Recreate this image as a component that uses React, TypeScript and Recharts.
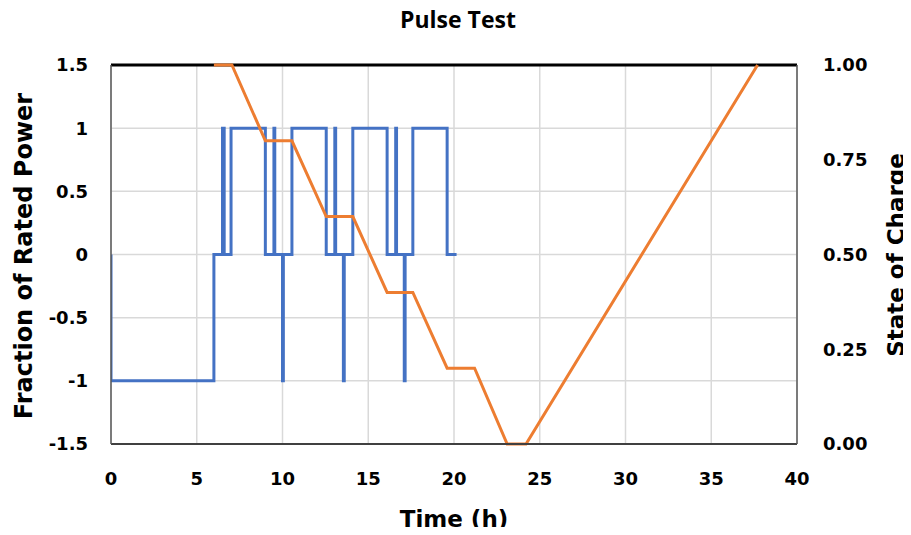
import React from 'react';
import { ComposedChart, Line, XAxis, YAxis, CartesianGrid, ReferenceLine } from 'recharts';

const powerTime = [0, 0, 6, 6, 6.5, 6.5, 6.6, 6.6, 7, 7, 9, 9, 9.5, 9.5, 9.55, 9.55, 10, 10, 10.05, 10.05, 10.55, 10.55, 12.55, 12.55, 13.05, 13.05, 13.1, 13.1, 13.55, 13.55, 13.6, 13.6, 14.1, 14.1, 16.1, 16.1, 16.6, 16.6, 16.65, 16.65, 17.1, 17.1, 17.15, 17.15, 17.6, 17.6, 19.6, 19.6, 20.15];
const powerValue = [0, -1, -1, 0, 0, 1, 1, 0, 0, 1, 1, 0, 0, 1, 1, 0, 0, -1, -1, 0, 0, 1, 1, 0, 0, 1, 1, 0, 0, -1, -1, 0, 0, 1, 1, 0, 0, 1, 1, 0, 0, -1, -1, 0, 0, 1, 1, 0, 0];

const socTime = [6, 7.05, 9, 10.55, 12.55, 14.1, 16.1, 17.6, 19.6, 21.2, 23.1, 24.2, 37.7];
const socValue = [1, 1, 0.8, 0.8, 0.6, 0.6, 0.4, 0.4, 0.2, 0.2, 0, 0, 1];

const timeTicks = [0, 5, 10, 15, 20, 25, 30, 35, 40];
const powerTicks = [-1.5, -1, -0.5, 0, 0.5, 1, 1.5];
const socTicks = [0, 0.25, 0.5, 0.75, 1];

const title = 'Pulse Test';
const xTitle = 'Time (h)';
const yLeftTitle = 'Fraction of Rated Power';
const yRightTitle = 'State of Charge';

const powerData = powerTime.map((t, i) => ({ t, p: powerValue[i] }));
const socData = socTime.map((t, i) => ({ t, soc: socValue[i] }));

const FONT = "'DejaVu Sans', sans-serif";
const TITLE_FONT = "'Open Sans', sans-serif";
const tickStyle = { fontFamily: FONT, fontWeight: 700, fontSize: 18, fill: '#000' };

const rotated = (cx: number, cy: number, size: number): React.CSSProperties => ({
  position: 'absolute',
  left: cx - 180,
  top: cy - 15,
  width: 360,
  height: 30,
  textAlign: 'center',
  fontFamily: FONT,
  fontWeight: 700,
  fontSize: size,
  lineHeight: '30px',
  whiteSpace: 'nowrap',
  transform: 'rotate(-90deg)',
});

export default function App() {
  return (
    <div style={{ position: 'relative', margin: -8, width: 911, height: 535, overflow: 'hidden', fontFamily: FONT, color: '#000', background: '#fff' }}>
      <ComposedChart width={911} height={535} margin={{ top: 65, right: 0, bottom: 0, left: 0 }}>
        <CartesianGrid yAxisId="left" stroke="#d9d9d9" strokeWidth={1.5} />
        <XAxis
          dataKey="t"
          type="number"
          domain={[0, 40]}
          ticks={timeTicks}
          allowDataOverflow
          height={91}
          tickSize={0}
          tickMargin={28}
          tickLine={false}
          axisLine={{ stroke: '#404040', strokeWidth: 2 }}
          tick={tickStyle}
        />
        <YAxis
          yAxisId="left"
          type="number"
          domain={[-1.5, 1.5]}
          ticks={powerTicks}
          width={111}
          tickSize={0}
          tickMargin={23}
          tickLine={false}
          axisLine={{ stroke: '#595959', strokeWidth: 1.5 }}
          tick={tickStyle}
        />
        <YAxis
          yAxisId="right"
          orientation="right"
          type="number"
          domain={[0, 1]}
          ticks={socTicks}
          width={114}
          tickSize={0}
          tickMargin={26}
          tickLine={false}
          tickFormatter={(v: number) => v.toFixed(2)}
          axisLine={{ stroke: '#595959', strokeWidth: 1.5 }}
          tick={tickStyle}
        />
        <ReferenceLine yAxisId="left" y={1.5} stroke="#000" strokeWidth={3} />
        <Line
          yAxisId="left"
          data={powerData}
          dataKey="p"
          type="linear"
          stroke="#4472C4"
          strokeWidth={3}
          dot={false}
          isAnimationActive={false}
        />
        <Line
          yAxisId="right"
          data={socData}
          dataKey="soc"
          type="linear"
          stroke="#ED7D31"
          strokeWidth={3}
          dot={false}
          isAnimationActive={false}
        />
      </ComposedChart>
      <div style={{ position: 'absolute', left: 8, width: 900, top: 4, textAlign: 'center', fontFamily: TITLE_FONT, fontWeight: 700, fontSize: 23, lineHeight: '30px' }}>
        {title}
      </div>
      <div style={{ position: 'absolute', left: 111, width: 686, top: 504, textAlign: 'center', fontWeight: 700, fontSize: 23, lineHeight: '30px', whiteSpace: 'nowrap' }}>
        {xTitle}
      </div>
      <div style={rotated(24, 256, 24)}>{yLeftTitle}</div>
      <div style={rotated(896, 255, 23)}>{yRightTitle}</div>
    </div>
  );
}
